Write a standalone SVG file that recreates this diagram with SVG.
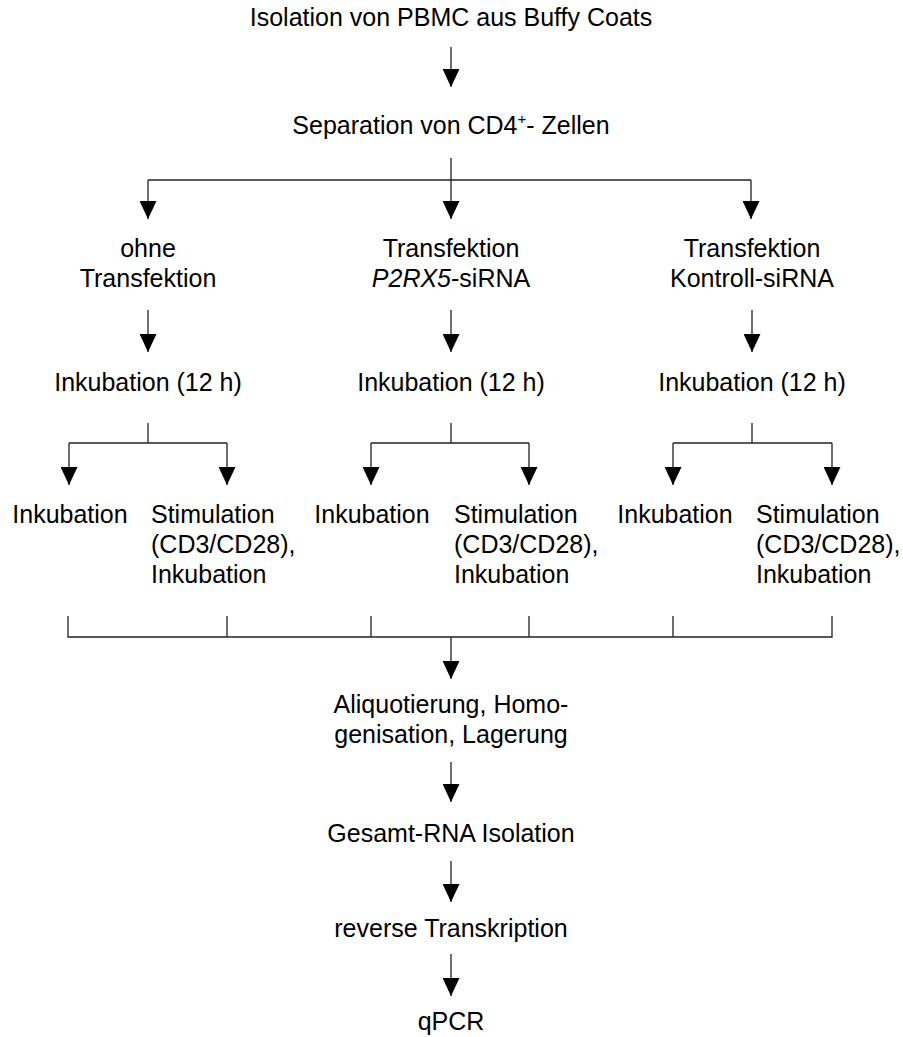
<svg xmlns="http://www.w3.org/2000/svg" width="903" height="1037" viewBox="0 0 903 1037">
<style>
text{font-family:"Liberation Sans",Arial,sans-serif;font-size:25px;fill:#000}
.c{text-anchor:middle}
.ln{stroke:#222;stroke-width:1.3;fill:none}
</style>
<defs>
<marker id="ah" viewBox="0 0 18 17" refX="18" refY="8.5" markerWidth="18" markerHeight="17" markerUnits="userSpaceOnUse" orient="auto">
<path d="M0,0 L18,8.5 L0,17 Z" fill="#000"/>
</marker>
</defs>
<rect width="903" height="1037" fill="#fff"/>
<g id="connectors">
<line class="ln" x1="451" y1="47" x2="451" y2="87" marker-end="url(#ah)"/>
<line class="ln" x1="451" y1="158" x2="451" y2="180"/>
<line class="ln" x1="148" y1="180" x2="751" y2="180"/>
<line class="ln" x1="148" y1="180" x2="148" y2="219" marker-end="url(#ah)"/>
<line class="ln" x1="451" y1="180" x2="451" y2="219" marker-end="url(#ah)"/>
<line class="ln" x1="751" y1="180" x2="751" y2="219" marker-end="url(#ah)"/>
<line class="ln" x1="148" y1="310" x2="148" y2="352" marker-end="url(#ah)"/>
<line class="ln" x1="451" y1="310" x2="451" y2="352" marker-end="url(#ah)"/>
<line class="ln" x1="752" y1="310" x2="752" y2="352" marker-end="url(#ah)"/>
<line class="ln" x1="148" y1="423" x2="148" y2="443"/>
<line class="ln" x1="69" y1="443" x2="227" y2="443"/>
<line class="ln" x1="69" y1="443" x2="69" y2="485" marker-end="url(#ah)"/>
<line class="ln" x1="227" y1="443" x2="227" y2="485" marker-end="url(#ah)"/>
<line class="ln" x1="451" y1="423" x2="451" y2="443"/>
<line class="ln" x1="371" y1="443" x2="529" y2="443"/>
<line class="ln" x1="371" y1="443" x2="371" y2="485" marker-end="url(#ah)"/>
<line class="ln" x1="529" y1="443" x2="529" y2="485" marker-end="url(#ah)"/>
<line class="ln" x1="752" y1="423" x2="752" y2="443"/>
<line class="ln" x1="673" y1="443" x2="832" y2="443"/>
<line class="ln" x1="673" y1="443" x2="673" y2="485" marker-end="url(#ah)"/>
<line class="ln" x1="832" y1="443" x2="832" y2="485" marker-end="url(#ah)"/>
<path class="ln" d="M68,616 V637 H832 V616 M227,616 V637 M371,616 V637 M529,616 V637 M673,616 V637"/>
<line class="ln" x1="451" y1="637" x2="451" y2="679" marker-end="url(#ah)"/>
<line class="ln" x1="451" y1="762" x2="451" y2="802" marker-end="url(#ah)"/>
<line class="ln" x1="451" y1="861" x2="451" y2="902" marker-end="url(#ah)"/>
<line class="ln" x1="451" y1="954" x2="451" y2="996" marker-end="url(#ah)"/>
</g>
<g id="n-isolation"><text class="c" x="451" y="26">Isolation von PBMC aus Buffy Coats</text></g>
<g id="n-separation"><text class="c" x="451" y="134">Separation von CD4<tspan font-size="15" dy="-10">+</tspan><tspan dy="10">- Zellen</tspan></text></g>
<g id="n-ohne"><text class="c" x="148" y="257">ohne</text><text class="c" x="148" y="287">Transfektion</text></g>
<g id="n-p2rx5"><text class="c" x="451" y="257">Transfektion</text><text class="c" x="451" y="287"><tspan font-style="italic">P2RX5</tspan>-siRNA</text></g>
<g id="n-kontroll"><text class="c" x="752" y="257">Transfektion</text><text class="c" x="752" y="287">Kontroll-siRNA</text></g>
<g id="n-ink12-1"><text class="c" x="148" y="391">Inkubation (12 h)</text></g>
<g id="n-ink12-2"><text class="c" x="451" y="391">Inkubation (12 h)</text></g>
<g id="n-ink12-3"><text class="c" x="752" y="391">Inkubation (12 h)</text></g>
<g id="n-ink-1"><text class="c" x="70" y="523">Inkubation</text></g>
<g id="n-stim-1"><text x="151" y="523">Stimulation</text><text x="151" y="553">(CD3/CD28),</text><text x="151" y="583">Inkubation</text></g>
<g id="n-ink-2"><text class="c" x="372" y="523">Inkubation</text></g>
<g id="n-stim-2"><text x="454" y="523">Stimulation</text><text x="454" y="553">(CD3/CD28),</text><text x="454" y="583">Inkubation</text></g>
<g id="n-ink-3"><text class="c" x="675" y="523">Inkubation</text></g>
<g id="n-stim-3"><text x="756" y="523">Stimulation</text><text x="756" y="553">(CD3/CD28),</text><text x="756" y="583">Inkubation</text></g>
<g id="n-aliquot"><text class="c" x="451" y="713">Aliquotierung, Homo-</text><text class="c" x="451" y="743">genisation, Lagerung</text></g>
<g id="n-rna"><text class="c" x="451" y="842">Gesamt-RNA Isolation</text></g>
<g id="n-rt"><text class="c" x="451" y="937">reverse Transkription</text></g>
<g id="n-qpcr"><text class="c" x="451" y="1030">qPCR</text></g>
</svg>
